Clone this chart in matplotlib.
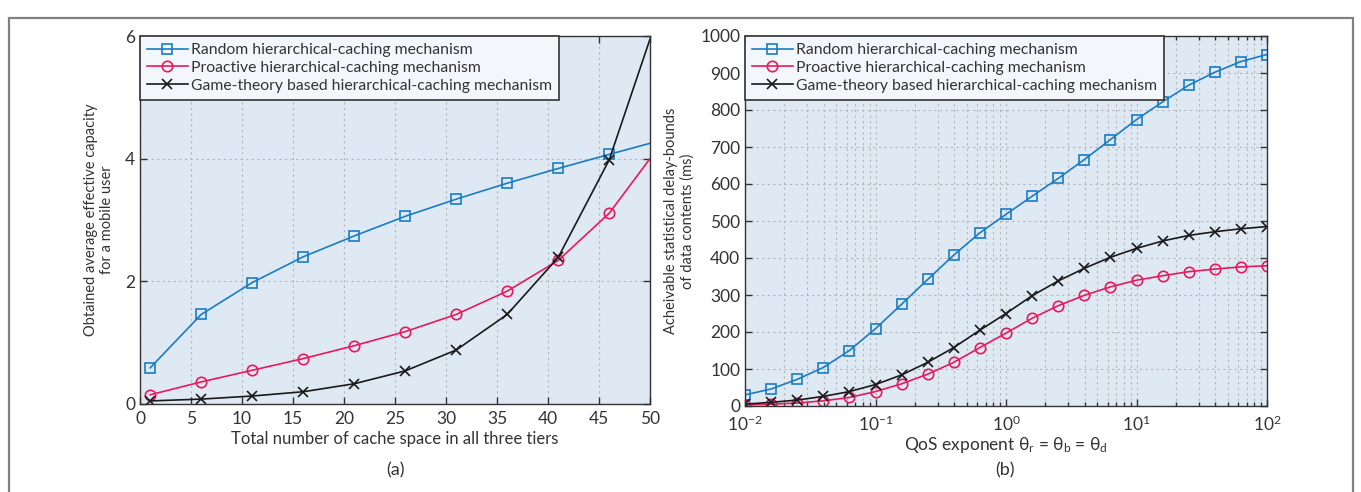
import numpy as np
import matplotlib
matplotlib.use("Agg")
import matplotlib.pyplot as plt
from matplotlib.patches import Rectangle
from matplotlib.ticker import LogLocator, NullFormatter

plt.rcParams['font.family'] = ['Lato', 'DejaVu Sans']
plt.rcParams['mathtext.fontset'] = 'custom'
plt.rcParams['mathtext.rm'] = 'Lato'
plt.rcParams['mathtext.it'] = 'Lato:italic'
plt.rcParams['mathtext.default'] = 'regular'

# ---- data: panel (a)
cache_x = [1, 6, 11, 16, 21, 26, 31, 36, 41, 46, 50]
cap_random = [0.59, 1.46, 1.98, 2.40, 2.74, 3.06, 3.34, 3.60, 3.84, 4.07, 4.25]
cap_proactive = [0.15, 0.36, 0.55, 0.74, 0.95, 1.18, 1.46, 1.84, 2.34, 3.11, 4.00]
cap_game = [0.05, 0.08, 0.13, 0.20, 0.33, 0.54, 0.88, 1.46, 2.39, 3.98, 5.95]

# ---- data: panel (b)
qos_exp = [-2.0, -1.8, -1.6, -1.4, -1.2, -1.0, -0.8, -0.6, -0.4, -0.2, 0.0,
           0.2, 0.4, 0.6, 0.8, 1.0, 1.2, 1.4, 1.6, 1.8, 2.0]
delay_random = [30, 46, 72, 104, 150, 209, 275, 342, 408, 468, 518, 567, 615,
                666, 720, 774, 822, 867, 902, 931, 950]
delay_proactive = [3, 5, 8, 14, 23, 39, 60, 86, 118, 158, 197, 237, 271, 299,
                   322, 340, 352, 363, 370, 376, 379]
delay_game = [5, 10, 16, 26, 39, 58, 84, 118, 158, 205, 250, 298, 338, 372,
              402, 426, 446, 461, 471, 479, 485]

labels = ['Random hierarchical-caching mechanism',
          'Proactive hierarchical-caching mechanism',
          'Game-theory based hierarchical-caching mechanism']

BLUE = '#1a7cc4'
RED = '#e8195c'
BLACK = '#1a1a1a'
AX_BG = '#dfe9f4'
LEG_BG = '#f3f6fb'
TXT = '#333333'

fig = plt.figure(figsize=(13.61, 4.92), dpi=100)
fig.patches.append(Rectangle((9/1361, -0.02), (1353-9)/1361, 1.0017-9/492,
                             transform=fig.transFigure, fill=False,
                             edgecolor='#808080', lw=1.6))

ax1 = fig.add_axes([140/1361, 1-404/492, (650-140)/1361, (404-36)/492])
ax2 = fig.add_axes([745/1361, 1-406/492, (1267-745)/1361, (406-36)/492])

for ax in (ax1, ax2):
    ax.set_facecolor(AX_BG)
    for s in ax.spines.values():
        s.set_color(TXT)
        s.set_linewidth(1.0)
    ax.tick_params(direction='in', top=True, right=True, length=5,
                   width=1.0, color=TXT, labelsize=12.5, labelcolor=TXT)

mk = dict(markersize=7.5, markerfacecolor='none', markeredgewidth=1.2, lw=1.2)
me = list(range(10))
ax1.plot(cache_x, cap_random, color=BLUE, marker='s', markevery=me, label=labels[0], **mk)
ax1.plot(cache_x, cap_proactive, color=RED, marker='o', markevery=me, label=labels[1], **mk)
ax1.plot(cache_x, cap_game, color=BLACK, marker='x', markevery=me, label=labels[2], **mk)
ax1.set_xlim(0, 50)
ax1.set_ylim(0, 6)
ax1.set_xticks(range(0, 51, 5))
ax1.set_yticks([0, 2, 4, 6])
ax1.tick_params(axis='x', pad=5)
ax1.grid(True, ls=(0, (2, 3)), color='#b5b5b5', lw=0.8)
ax1.set_axisbelow(True)
ax1.set_xlabel('Total number of cache space in all three tiers', fontsize=12,
               color=TXT, labelpad=3)
ax1.set_ylabel('Obtained average effective capacity\nfor a mobile user', fontsize=10.5,
               color=TXT, labelpad=8, linespacing=1.2)

qos = [10**e for e in qos_exp]
ax2.plot(qos, delay_random, color=BLUE, marker='s', label=labels[0], **mk)
ax2.plot(qos, delay_proactive, color=RED, marker='o', label=labels[1], **mk)
ax2.plot(qos, delay_game, color=BLACK, marker='x', label=labels[2], **mk)
ax2.set_xscale('log')
ax2.set_xlim(1e-2, 1e2)
ax2.set_ylim(0, 1000)
ax2.set_yticks(range(0, 1001, 100))
ax2.xaxis.set_minor_locator(LogLocator(base=10, subs=np.arange(2, 10)))
ax2.xaxis.set_minor_formatter(NullFormatter())
ax2.tick_params(which='minor', direction='in', top=True, length=3, width=1.0, color=TXT)
ax2.tick_params(axis='x', which='major', pad=6)
ax2.grid(True, which='major', ls=(0, (2, 3)), color='#b5b5b5', lw=0.8)
ax2.grid(True, which='minor', axis='x', ls=(0, (2, 3)), color='#b5b5b5', lw=0.8)
ax2.set_axisbelow(True)
ax2.set_xlabel('QoS exponent θ$_\\mathrm{r}$ = θ$_\\mathrm{b}$ = θ$_\\mathrm{d}$', fontsize=12.5,
               color=TXT, labelpad=1)
ax2.set_ylabel('Acheivable statistical delay-bounds\nof data contents (ms)', fontsize=10.5,
               color=TXT, labelpad=4, linespacing=1.2)

for ax in (ax1, ax2):
    leg = ax.legend(loc='upper left', borderaxespad=0, fontsize=11.3, fancybox=False,
                    framealpha=1, facecolor=LEG_BG, edgecolor=TXT,
                    handlelength=2.6, handletextpad=0.2, labelspacing=0.25,
                    borderpad=0.45)
    leg.get_frame().set_linewidth(1.2)
    for t in leg.get_texts():
        t.set_color(TXT)

fig.text(395/1361, 1-470/492, '(a)', ha='center', va='center', fontsize=13, color=TXT)
fig.text(1005/1361, 1-470/492, '(b)', ha='center', va='center', fontsize=13, color=TXT)

fig.savefig('out.png', dpi=100)
